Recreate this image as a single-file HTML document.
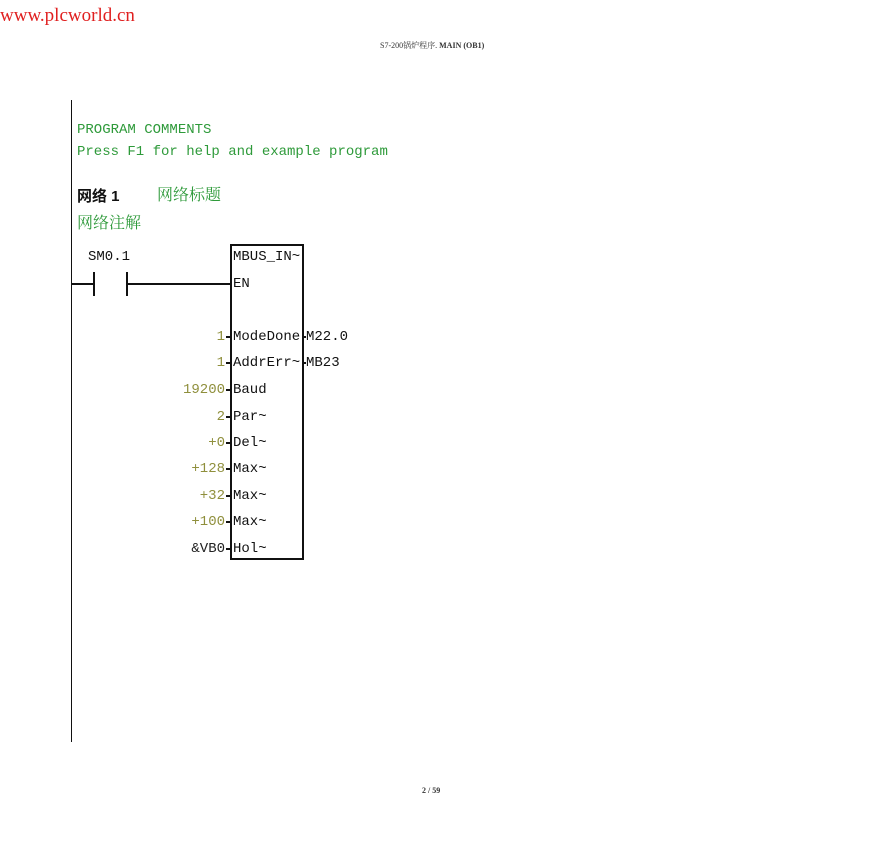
<!DOCTYPE html>
<html><head><meta charset="utf-8"><style>
body{margin:0;width:870px;height:842px;background:#fff;position:relative;overflow:hidden;font-family:"Liberation Mono","Noto Sans CJK SC",monospace;}
.a{position:absolute;white-space:nowrap;line-height:1;}
.g{color:#2e9a3a;font-size:14px;}
.k{color:#111;font-size:14px;}
.o{color:#8f8f3c;font-size:14px;text-align:right;width:60px;}
.l{position:absolute;background:#111;}
</style></head><body>
<div class="a" style="left:0;top:6px;font-family:'Liberation Serif',serif;font-size:19px;color:#e02020;">www.plcworld.cn</div>
<div class="a" style="left:380px;top:42px;font-size:8px;color:#333;font-family:'Liberation Serif','Noto Serif CJK SC',serif;">S7-200锅炉程序. <b>MAIN (OB1)</b></div>
<div class="a" style="left:422px;top:787px;font-size:8px;color:#333;font-family:'Liberation Serif',serif;"><b>2 / 59</b></div>

<div class="l" style="left:71px;top:100px;width:1px;height:642px;"></div>

<div class="a g" style="left:77px;top:123px;">PROGRAM COMMENTS</div>
<div class="a g" style="left:77px;top:145px;">Press F1 for help and example program</div>
<div class="a k" style="left:77px;top:189px;font-family:'Liberation Sans','Noto Sans CJK SC',sans-serif;font-size:15px;font-weight:bold;">网络 1</div>
<div class="a g" style="left:157px;top:188px;font-family:'Liberation Serif','Noto Serif CJK SC',serif;font-size:16px;">网络标题</div>
<div class="a g" style="left:77px;top:216px;font-family:'Liberation Serif','Noto Serif CJK SC',serif;font-size:16px;">网络注解</div>

<div class="a k" style="left:88px;top:250px;">SM0.1</div>
<div class="l" style="left:71px;top:283px;width:23px;height:2px;"></div>
<div class="l" style="left:93px;top:272px;width:2px;height:24px;"></div>
<div class="l" style="left:126px;top:272px;width:2px;height:24px;"></div>
<div class="l" style="left:127px;top:283px;width:104px;height:2px;"></div>

<div style="position:absolute;left:230px;top:244px;width:70px;height:312px;border:2px solid #111;"></div>
<div class="a k" style="left:233px;top:250px;">MBUS_IN~</div>
<div class="a k" style="left:233px;top:277px;">EN</div>

<div class="a k" style="left:233px;top:330px;">ModeDone</div>
<div class="a k" style="left:233px;top:356px;">AddrErr~</div>
<div class="a k" style="left:233px;top:383px;">Baud</div>
<div class="a k" style="left:233px;top:410px;">Par~</div>
<div class="a k" style="left:233px;top:436px;">Del~</div>
<div class="a k" style="left:233px;top:462px;">Max~</div>
<div class="a k" style="left:233px;top:489px;">Max~</div>
<div class="a k" style="left:233px;top:515px;">Max~</div>
<div class="a k" style="left:233px;top:542px;">Hol~</div>

<div class="a k" style="left:306px;top:330px;">M22.0</div>
<div class="a k" style="left:306px;top:356px;">MB23</div>
<div class="l" style="left:302px;top:336px;width:4px;height:2px;"></div>
<div class="l" style="left:302px;top:362px;width:4px;height:2px;"></div>

<div class="a o" style="left:165px;top:330px;">1</div>
<div class="a o" style="left:165px;top:356px;">1</div>
<div class="a o" style="left:165px;top:383px;">19200</div>
<div class="a o" style="left:165px;top:410px;">2</div>
<div class="a o" style="left:165px;top:436px;">+0</div>
<div class="a o" style="left:165px;top:462px;">+128</div>
<div class="a o" style="left:165px;top:489px;">+32</div>
<div class="a o" style="left:165px;top:515px;">+100</div>
<div class="a o" style="left:165px;top:542px;color:#222;">&amp;VB0</div>

<div class="l" style="left:226px;top:336px;width:4px;height:2px;"></div>
<div class="l" style="left:226px;top:362px;width:4px;height:2px;"></div>
<div class="l" style="left:226px;top:389px;width:4px;height:2px;"></div>
<div class="l" style="left:226px;top:416px;width:4px;height:2px;"></div>
<div class="l" style="left:226px;top:442px;width:4px;height:2px;"></div>
<div class="l" style="left:226px;top:468px;width:4px;height:2px;"></div>
<div class="l" style="left:226px;top:495px;width:4px;height:2px;"></div>
<div class="l" style="left:226px;top:521px;width:4px;height:2px;"></div>
<div class="l" style="left:226px;top:548px;width:4px;height:2px;"></div>
</body></html>
